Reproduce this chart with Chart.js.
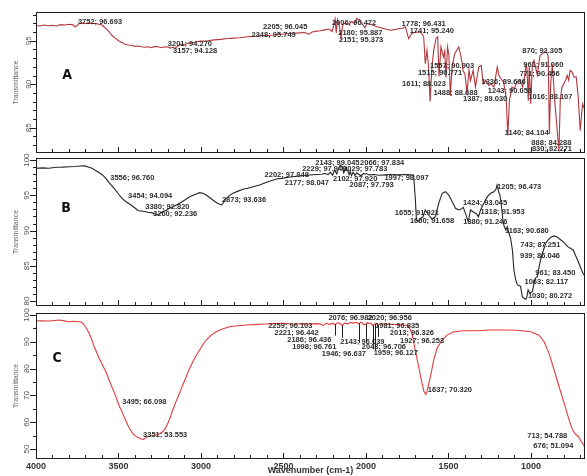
<!DOCTYPE html>
<html>
<head>
<meta charset="utf-8">
<script src="https://cdn.jsdelivr.net/npm/chart.js@4.4.0/dist/chart.umd.min.js"></script>
<style>
  html, body { margin: 0; padding: 0; background: #fff; }
  #wrap { position: relative; width: 587px; height: 476px; overflow: hidden; background: #fff; }
  #wrap canvas { position: absolute; left: 0; }
</style>
</head>
<body>
<div id="wrap">
  <canvas id="specA" width="587" height="157" style="top:0px;width:587px;height:157px"></canvas>
  <canvas id="specB" width="587" height="157" style="top:153px;width:587px;height:157px"></canvas>
  <canvas id="specC" width="587" height="171" style="top:305px;width:587px;height:171px"></canvas>
</div>
<script>
// ---- wavenumber axis ----
const xTickLabels = [4000, 3500, 3000, 2500, 2000, 1500, 1000];

// ---- spectrum A : [wavenumber cm-1, transmittance %] ----
const spectrumA = [
  [4000, 96.75], [3975, 96.7], [3950, 96.8], [3925, 96.72], [3900, 96.78], [3875, 96.7], [3850, 96.85],
  [3825, 96.8], [3800, 96.9], [3775, 96.82], [3765, 96.6], [3752, 96.693], [3740, 96.95], [3720, 97.0],
  [3700, 96.95], [3680, 97.05], [3660, 96.95], [3640, 97.0], [3620, 96.9], [3600, 96.8], [3585, 96.55],
  [3570, 96.3], [3555, 96.0], [3540, 95.6], [3520, 95.3], [3500, 95.0], [3480, 94.8], [3460, 94.6],
  [3440, 94.5], [3420, 94.45], [3400, 94.35], [3380, 94.4], [3360, 94.3], [3340, 94.25], [3320, 94.3],
  [3300, 94.2], [3280, 94.35], [3260, 94.3], [3240, 94.2], [3220, 94.3], [3201, 94.27], [3185, 94.15],
  [3170, 94.25], [3157, 94.128], [3140, 94.4], [3120, 94.6], [3100, 94.55], [3080, 94.7], [3060, 94.75],
  [3040, 94.8], [3020, 94.9], [3000, 94.95], [2960, 95.0], [2920, 95.1], [2880, 95.15], [2840, 95.25],
  [2800, 95.3], [2760, 95.35], [2720, 95.45], [2680, 95.5], [2640, 95.55], [2600, 95.6], [2560, 95.65],
  [2520, 95.75], [2480, 95.8], [2440, 95.85], [2400, 95.9], [2370, 95.95], [2348, 95.749], [2325, 96.0],
  [2300, 96.1], [2275, 96.15], [2250, 96.25], [2225, 96.35], [2205, 96.045], [2195, 96.8], [2187, 97.5],
  [2180, 95.887], [2172, 97.4], [2162, 96.8], [2151, 95.373], [2140, 96.9], [2126, 97.0], [2105, 96.9],
  [2086, 97.2], [2070, 96.95], [2055, 97.55], [2035, 97.35], [2020, 96.9], [2006, 96.472], [1994, 97.0],
  [1960, 96.8], [1934, 96.6], [1893, 96.4], [1853, 96.2], [1820, 96.3], [1795, 96.4], [1778, 96.431],
  [1761, 96.6], [1741, 95.24], [1721, 95.85], [1690, 96.0], [1665, 95.95], [1650, 95.45], [1640, 92.37],
  [1630, 93.9], [1620, 91.98], [1611, 88.023], [1600, 91.98], [1589, 93.9], [1575, 95.26], [1565, 95.45],
  [1557, 90.903], [1545, 94.29], [1530, 93.13], [1522, 93.8], [1515, 90.771], [1505, 94.29], [1497, 93.33],
  [1488, 88.688], [1478, 92.0], [1462, 93.5], [1437, 94.29], [1423, 93.13], [1410, 91.5], [1400, 91.21],
  [1387, 89.03], [1375, 91.6], [1366, 90.44], [1350, 91.6], [1336, 89.686], [1316, 91.98], [1301, 92.17],
  [1289, 90.06], [1275, 90.44], [1255, 89.86], [1243, 90.058], [1224, 89.67], [1214, 90.82], [1204, 91.98],
  [1194, 91.02], [1180, 90.6], [1165, 90.2], [1150, 88.5], [1140, 84.104], [1130, 88.13], [1115, 89.67],
  [1100, 89.5], [1085, 90.24], [1065, 90.44], [1050, 89.67], [1040, 90.6], [1030, 92.17], [1024, 91.9],
  [1016, 88.107], [1010, 91.98], [1001, 87.75], [991, 92.37], [981, 92.75], [961, 91.06], [945, 93.3],
  [925, 93.6], [905, 93.72], [895, 93.2], [888, 84.288], [880, 90.0], [870, 92.305], [855, 88.0],
  [830, 82.271], [822, 88.13], [812, 89.67], [800, 90.06], [790, 90.44], [780, 91.02], [771, 90.456],
  [762, 91.6], [750, 91.4], [738, 90.82], [725, 90.82], [713, 88.5], [701, 84.66], [687, 87.75], [672, 86.97]
];
const peaksA = [
  [3752, 96.693], [3201, 94.270], [3157, 94.128], [2205, 96.045], [2348, 95.749], [2006, 96.472],
  [2180, 95.887], [2151, 95.373], [1778, 96.431], [1741, 95.240], [1557, 90.903], [1515, 90.771],
  [1611, 88.023], [1488, 88.688], [1387, 89.030], [1336, 89.686], [1243, 90.058], [1140, 84.104],
  [1016, 88.107], [961, 91.060], [888, 84.288], [870, 92.305], [830, 82.271], [771, 90.456]
];
const yTicksA = [85, 90, 95];

// ---- spectrum B ----
const spectrumB = [
  [4000, 98.84], [3960, 98.9], [3920, 98.85], [3880, 98.98], [3840, 99.0], [3800, 99.05], [3760, 99.1],
  [3718, 99.21], [3700, 99.15], [3688, 99.07], [3660, 98.85], [3637, 98.5], [3617, 98.2], [3597, 97.89],
  [3577, 97.4], [3556, 96.76], [3526, 96.0], [3495, 95.05], [3475, 94.5], [3454, 94.094], [3424, 93.63],
  [3400, 93.2], [3380, 92.82], [3350, 92.75], [3323, 92.6], [3300, 92.55], [3280, 92.4], [3260, 92.236],
  [3245, 92.5], [3232, 92.68], [3210, 92.9], [3191, 93.17], [3160, 93.5], [3130, 93.87], [3100, 94.3],
  [3069, 94.81], [3040, 95.1], [3008, 95.38], [2988, 95.3], [2968, 95.05], [2948, 94.7], [2928, 94.34],
  [2905, 93.95], [2887, 93.73], [2873, 93.636], [2860, 94.1], [2846, 94.58], [2825, 95.0], [2806, 95.29],
  [2775, 95.6], [2745, 95.86], [2715, 96.0], [2684, 96.23], [2640, 96.5], [2603, 96.85], [2570, 97.1],
  [2542, 97.32], [2500, 97.45], [2461, 97.6], [2420, 97.7], [2380, 97.8], [2339, 97.89], [2300, 97.95],
  [2270, 98.0], [2250, 98.1], [2229, 97.948], [2215, 98.3], [2202, 97.848], [2190, 98.6], [2177, 98.047],
  [2165, 98.9], [2155, 99.3], [2143, 99.045], [2135, 98.2], [2120, 98.8], [2110, 98.5], [2102, 97.92],
  [2095, 98.4], [2087, 97.793], [2078, 98.3], [2066, 97.834], [2055, 98.2], [2045, 98.0], [2029, 97.783],
  [2015, 98.1], [2005, 98.0], [1997, 98.097], [1980, 97.9], [1950, 97.95], [1920, 97.85], [1880, 97.9],
  [1850, 97.95], [1800, 97.9], [1760, 97.95], [1725, 97.9], [1711, 97.89], [1700, 94.34], [1694, 91.51],
  [1680, 91.27], [1665, 91.8], [1655, 91.921], [1640, 92.92], [1620, 92.21], [1600, 91.658], [1579, 91.97],
  [1559, 93.87], [1538, 95.29], [1518, 95.52], [1498, 95.05], [1477, 94.1], [1457, 93.17], [1437, 92.92],
  [1424, 93.045], [1410, 93.3], [1396, 92.4], [1380, 91.246], [1366, 92.92], [1346, 92.6], [1330, 92.4],
  [1318, 91.953], [1305, 92.92], [1285, 93.87], [1264, 94.81], [1244, 95.29], [1224, 95.52], [1212, 95.86],
  [1205, 96.473], [1195, 95.5], [1188, 95.05], [1179, 93.63], [1170, 91.5], [1163, 90.68], [1153, 90.09],
  [1143, 90.56], [1133, 89.62], [1123, 88.91], [1112, 87.25], [1103, 84.41], [1092, 83.0], [1082, 82.29],
  [1072, 82.2], [1063, 82.117], [1052, 80.63], [1042, 80.4], [1030, 80.272], [1024, 80.63], [1017, 81.58],
  [1005, 81.11], [991, 81.34], [981, 82.52], [971, 83.3], [961, 83.45], [950, 84.88], [939, 86.046],
  [930, 86.78], [920, 87.49], [910, 88.2], [896, 88.67], [879, 89.05], [859, 89.24], [839, 89.05],
  [818, 88.67], [798, 88.29], [777, 87.72], [758, 87.45], [743, 87.251], [730, 86.5], [717, 85.83],
  [697, 84.65], [682, 83.8], [672, 83.6]
];
const peaksB = [
  [3556, 96.760], [3454, 94.094], [3380, 92.820], [3260, 92.236], [2873, 93.636], [2202, 97.848],
  [2229, 97.948], [2177, 98.047], [2143, 99.045], [2102, 97.920], [2087, 97.793], [2066, 97.834],
  [2029, 97.783], [1997, 98.097], [1655, 91.921], [1600, 91.658], [1424, 93.045], [1380, 91.246],
  [1318, 91.953], [1205, 96.473], [1163, 90.680], [1063, 82.117], [1030, 80.272], [961, 83.450],
  [939, 86.046], [743, 87.251]
];
const yTicksB = [80, 85, 90, 95, 100];

// ---- spectrum C ----
const spectrumC = [
  [4000, 97.88], [3960, 97.8], [3921, 97.76], [3890, 97.95], [3860, 98.14], [3830, 97.8], [3800, 97.5],
  [3770, 97.7], [3738, 97.5], [3720, 97.2], [3708, 96.27], [3693, 95.0], [3678, 93.17], [3662, 90.8],
  [3647, 88.18], [3632, 86.0], [3617, 83.85], [3596, 81.2], [3576, 78.85], [3556, 75.6], [3536, 72.65],
  [3520, 70.2], [3505, 67.65], [3495, 66.098], [3474, 63.3], [3459, 61.0], [3444, 58.96], [3429, 57.3],
  [3414, 55.86], [3400, 55.0], [3384, 54.37], [3370, 54.0], [3360, 53.75], [3351, 53.553], [3340, 54.0],
  [3323, 54.6], [3300, 54.9], [3272, 55.23], [3250, 55.7], [3232, 56.46], [3215, 57.8], [3201, 59.6],
  [3185, 62.0], [3171, 64.56], [3150, 67.9], [3130, 70.79], [3110, 74.0], [3089, 76.98], [3070, 80.0],
  [3049, 82.58], [3028, 85.0], [3008, 86.94], [2988, 89.0], [2968, 90.68], [2940, 92.4], [2907, 93.77],
  [2870, 94.8], [2826, 95.64], [2780, 96.0], [2724, 96.27], [2660, 96.5], [2603, 96.65], [2550, 96.8],
  [2501, 96.91], [2460, 96.75], [2420, 96.65], [2380, 96.8], [2339, 96.65], [2300, 96.8], [2280, 96.7],
  [2259, 96.103], [2240, 96.9], [2221, 96.442], [2205, 96.95], [2186, 96.436], [2170, 97.1], [2155, 96.8],
  [2143, 96.039], [2130, 97.0], [2110, 96.7], [2095, 97.2], [2076, 96.982], [2060, 97.3], [2043, 96.706],
  [2030, 97.35], [2020, 96.956], [2013, 96.326], [1998, 96.761], [1990, 97.2], [1981, 96.835],
  [1970, 97.0], [1959, 96.127], [1946, 96.637], [1935, 96.9], [1927, 96.253], [1910, 96.7], [1880, 96.6],
  [1850, 96.5], [1800, 96.45], [1760, 96.2], [1743, 96.0], [1721, 93.2], [1701, 86.95], [1680, 80.7],
  [1660, 74.5], [1648, 71.5], [1637, 70.32], [1630, 71.4], [1609, 77.0], [1589, 83.2], [1569, 87.6],
  [1538, 90.68], [1508, 92.5], [1468, 93.77], [1407, 94.15], [1326, 94.15], [1244, 94.4], [1163, 94.4],
  [1082, 94.3], [1001, 93.77], [951, 92.5], [920, 90.04], [890, 85.7], [859, 79.5], [829, 73.25],
  [798, 67.06], [768, 60.8], [748, 57.2], [730, 55.6], [713, 54.788], [700, 53.4], [688, 52.2],
  [676, 51.094], [672, 50.7]
];
const peaksC = [
  [3495, 66.098], [3351, 53.553], [2259, 96.103], [2221, 96.442], [2186, 96.436], [1998, 96.761],
  [1946, 96.637], [2076, 96.982], [2020, 96.956], [2143, 96.039], [2043, 96.706], [2013, 96.326],
  [1927, 96.253], [1959, 96.127], [1981, 96.835], [1637, 70.320], [713, 54.788], [676, 51.094]
];
const yTicksC = [50, 60, 70, 80, 90, 100];

// label nudges in pixels, one per peak, relative to the peak position
const labelShiftA = [
  [1, -4], [0, -3], [-2, 3], [-69, -5], [-57, 1], [-33, -5], [2, 0], [-2, 2], [-1, -4], [1, -8],
  [-9, -10], [-28, -5], [-28, -18], [-17, -3], [-4, 6], [6, -5], [-3, 7], [-3, -3], [0, -4],
  [-14, -10], [-18, 9], [-30, -13], [-27, -3], [-49, -6]
];
const labelShiftB = [
  [1, -5], [2, -6], [7, -4], [-5, -1], [0, -5], [-68, 0], [-26, -6], [-52, 9], [-27, -4], [-16, 4],
  [-2, 9], [5, -12], [-18, -7], [18, 4], [-28, -4], [-22, 2], [2, -6], [-5, 0], [2, -5], [0, 2],
  [1, 5], [4, -4], [2, -3], [-2, -4], [-21, -3], [-53, -5]
];
const labelShiftC = [
  [3, -4], [0, -5], [-55, 0], [-55, 8], [-48, 15], [-74, 23], [-53, 30], [-25, -5], [5, -5],
  [-2, 16], [3, 23], [26, 8], [22, 16], [1, 28], [6, 2], [2, -5], [-51, 0], [-51, 0]
];

const FONT = '"Liberation Sans", Arial, sans-serif';
Chart.defaults.font.family = FONT;

// frame, outward y ticks, inward x ticks, panel letter
const frameTicks = {
  id: 'frameTicks',
  afterDraw(chart, args, o) {
    const { ctx, chartArea: a, scales: { x, y } } = chart;
    ctx.save();
    ctx.strokeStyle = '#1e1e1e';
    ctx.lineWidth = 1;
    ctx.strokeRect(Math.round(a.left) + 0.5, Math.round(a.top) + 0.5,
      Math.round(a.right - a.left) - 1, Math.round(a.bottom - a.top) - 1);
    ctx.beginPath();
    for (let v = Math.ceil(y.min / o.yMinor) * o.yMinor; v <= y.max; v += o.yMinor) {
      const py = Math.round(y.getPixelForValue(v)) + 0.5;
      const len = o.yMajor.includes(v) ? 6 : 3;
      ctx.moveTo(a.left - len, py);
      ctx.lineTo(a.left, py);
    }
    for (let v = 700; v <= 4000; v += 100) {
      const px = Math.round(x.getPixelForValue(v)) + 0.5;
      const len = v % 500 === 0 ? 5 : 3;
      ctx.moveTo(px, a.bottom - 1);
      ctx.lineTo(px, a.bottom - 1 - len);
    }
    ctx.stroke();
    ctx.fillStyle = '#111';
    ctx.font = 'bold 14px "Liberation Sans Narrow", "DejaVu Sans Condensed", ' + FONT;
    ctx.textAlign = 'center';
    ctx.textBaseline = 'middle';
    ctx.fillText(o.letter, a.left + o.letterAt[0], a.top + o.letterAt[1]);
    ctx.restore();
  }
};

// "wavenumber; transmittance" annotations at each picked peak
const peakLabels = {
  id: 'peakLabels',
  afterDatasetsDraw(chart, args, o) {
    const { ctx, scales: { x, y } } = chart;
    ctx.save();
    ctx.font = 'bold 7.5px ' + FONT;
    ctx.fillStyle = '#2e2e2e';
    ctx.strokeStyle = '#1e1e1e';
    ctx.lineWidth = 1;
    ctx.textAlign = 'left';
    ctx.textBaseline = 'middle';
    o.peaks.forEach(([wn, t], i) => {
      const [dx, dy] = o.shift[i];
      const px = x.getPixelForValue(wn);
      const py = y.getPixelForValue(t);
      if (o.leaders && dy > 10) {
        const lx = Math.round(px) + 0.5;
        ctx.beginPath();
        ctx.moveTo(lx, py);
        ctx.lineTo(lx, py + dy - 4);
        ctx.stroke();
      }
      ctx.fillText(wn + '; ' + t.toFixed(3), px + dx, py + dy);
    });
    ctx.restore();
  }
};

function xAxis(showLabels) {
  const ax = {
    type: 'linear', min: 672, max: 4000, reverse: true,
    display: showLabels,
    afterBuildTicks: s => { s.ticks = xTickLabels.map(v => ({ value: v })); },
    grid: { display: false, drawTicks: false },
    border: { display: false },
    ticks: {
      autoSkip: false, maxRotation: 0, minRotation: 0, padding: 2,
      color: '#333', font: { size: 9, weight: 'bold' }, callback: v => String(v)
    },
    title: {
      display: true, text: 'Wavenumber (cm-1)', color: '#333',
      font: { size: 9, weight: 'bold' }, padding: 0
    }
  };
  if (showLabels) {
    ax.afterFit = s => { s.height = 17; s.paddingLeft = 0; s.paddingRight = 0; };
  }
  return ax;
}

function yAxis(min, max, tickVals) {
  return {
    type: 'linear', position: 'left', min, max,
    afterBuildTicks: s => { s.ticks = tickVals.map(v => ({ value: v })); },
    afterFit: s => { s.width = 36; s.paddingTop = 0; s.paddingBottom = 0; },
    grid: { display: false, drawTicks: false },
    border: { display: false },
    ticks: {
      autoSkip: false, minRotation: 90, maxRotation: 90, crossAlign: 'center', padding: 3,
      color: '#555', font: { size: 8 }, callback: v => String(v)
    },
    title: {
      display: true, text: 'Transmittance', color: '#666',
      font: { size: 7 }, padding: { top: 12, bottom: 0 }
    }
  };
}

function makeChart(id, spectrum, color, yMin, yMax, yTicks, yMinor, peaks, shift, letter, letterAt, padding, showX, leaders) {
  return new Chart(document.getElementById(id), {
    type: 'line',
    data: {
      datasets: [{
        data: spectrum.map(([wn, t]) => ({ x: wn, y: t })),
        borderColor: color,
        borderWidth: 1.1,
        pointRadius: 0,
        tension: 0,
        fill: false
      }]
    },
    options: {
      responsive: false,
      animation: false,
      devicePixelRatio: 1,
      layout: { padding },
      scales: { x: xAxis(showX), y: yAxis(yMin, yMax, yTicks) },
      plugins: {
        legend: { display: false },
        tooltip: { enabled: false },
        frameTicks: { yMinor, yMajor: yTicks, letter, letterAt },
        peakLabels: { peaks, shift, leaders }
      }
    },
    plugins: [frameTicks, peakLabels]
  });
}

makeChart('specA', spectrumA, '#b4363c', 82.1, 98.3, yTicksA, 1, peaksA, labelShiftA,
  'A', [31, 63], { top: 12, right: 2, bottom: 4, left: 0 }, false, false);
makeChart('specB', spectrumB, '#2b2222', 79.3, 100.3, yTicksB, 1, peaksB, labelShiftB,
  'B', [30, 50], { top: 5, right: 2, bottom: 4, left: 0 }, false, false);
makeChart('specC', spectrumC, '#e23a3a', 46.3, 100.75, yTicksC, 5, peaksC, labelShiftC,
  'C', [21, 45], { top: 8, right: 2, bottom: 0, left: 0 }, true, true);
</script>
</body>
</html>
